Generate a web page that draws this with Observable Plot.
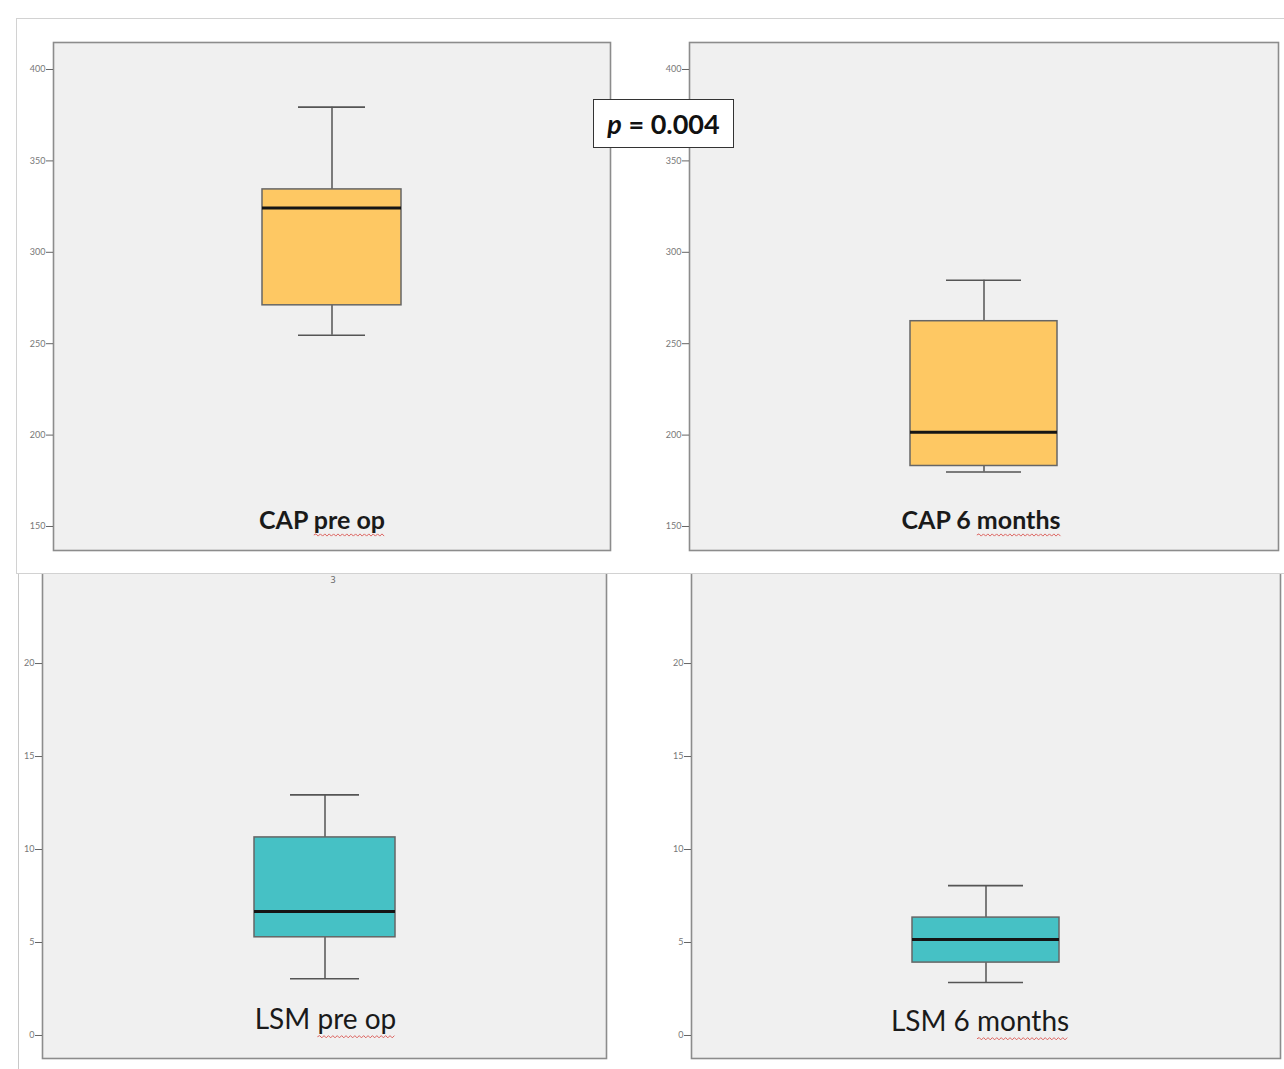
<!DOCTYPE html>
<html><head><meta charset="utf-8">
<script src="https://cdn.jsdelivr.net/npm/d3@7"></script>
<script src="https://cdn.jsdelivr.net/npm/@observablehq/plot@0.6"></script>
<style>
body{margin:0;background:#fff;font-family:Lato,"Open Sans",sans-serif;}
#root{position:relative;width:1284px;height:1069px;overflow:hidden;background:#fff;}
.svgwrap{position:absolute;}
.svgwrap svg{display:block;}
#topbg{position:absolute;left:16px;top:18px;width:1268px;height:556px;background:#fff;border:1px solid #d2d2d2;border-right:none;box-sizing:border-box;z-index:2;}
#botedge{position:absolute;left:18px;top:560px;width:1px;height:509px;background:#c8c8c8;}
#pbox{position:absolute;left:593px;top:99px;width:141px;height:49px;box-sizing:border-box;border:1.5px solid #333;background:#fff;z-index:4;
  font-family:Lato,"Open Sans",sans-serif;font-weight:bold;font-size:27px;color:#111;display:flex;align-items:center;justify-content:center;}
</style></head>
<body><div id="root"><div id="botedge"></div><div id="topbg"></div><div id="pbox"><span><i>p</i> = 0.004</span></div></div>
<script>
// ---- data ----
const panels = ["CAP pre op", "CAP 6 months", "LSM pre op", "LSM 6 months"];
const lowWhisker  = [254.6, 179.8, 3.05, 2.85];
const q1          = [271.0, 183.1, 5.28, 3.92];
const median      = [324.2, 201.6, 6.67, 5.16];
const q3          = [334.4, 262.3, 10.65, 6.34];
const highWhisker = [379.4, 284.7, 12.94, 8.06];
const capTicks = [150, 200, 250, 300, 350, 400];
const lsmTicks = [0, 5, 10, 15, 20, 25];
const lsmPreOutlier = [{value: 25.1, id: "3"}];

// ---- layout/style ----
const ORANGE = "#fec863", TEAL = "#46c1c5";
const layout = [
  {left: 16, top: 18, width: 604, height: 555, ml: 37, mr: 10, mt: 24, mb: 23, domain: [136.87, 414.77], ticks: capTicks, color: ORANGE, bold: true, fs: 25, dx: -10, dy: -30, z: 3, split: ["CAP", "pre op"]},
  {left: 640, top: 18, width: 644, height: 555, ml: 49, mr: 6, mt: 24, mb: 23, domain: [136.87, 414.77], ticks: capTicks, color: ORANGE, bold: true, fs: 25, dx: -3, dy: -30, z: 3, split: ["CAP 6", "months"]},
  {left: 19, top: 560, width: 600, height: 509, ml: 23, mr: 13, mt: 0, mb: 11, domain: [-1.237, 25.54], ticks: lsmTicks, color: TEAL, bold: false, fs: 28, dx: 1, dy: -38, z: 1, split: ["LSM", "pre op"]},
  {left: 640, top: 560, width: 644, height: 509, ml: 51, mr: 4, mt: 0, mb: 11, domain: [-1.237, 25.54], ticks: lsmTicks, color: TEAL, bold: false, fs: 28, dx: -6, dy: -36, z: 1, split: ["LSM 6", "months"]}
];

const root = document.getElementById("root");
const NS = "http://www.w3.org/2000/svg";

panels.forEach((name, i) => {
  const L = layout[i];
  const d = [{panel: name, low: lowWhisker[i], q1: q1[i], median: median[i], q3: q3[i], high: highWhisker[i]}];
  const marks = [
    Plot.frame({fill: "#f0f0f0", stroke: "#8c8c8c", strokeWidth: 1.6}),
    Plot.axisY(L.ticks, {tickSize: 7, tickPadding: 1, fontSize: 9, stroke: "#666", fill: "#777", fontFamily: "Lato, sans-serif"}),
    Plot.ruleX(d, {x: "panel", y1: "low", y2: "q1", stroke: "#555", strokeWidth: 1.5}),
    Plot.ruleX(d, {x: "panel", y1: "q3", y2: "high", stroke: "#555", strokeWidth: 1.5}),
    Plot.tickY(d, {x: "panel", y: "low", insetLeft: 36, insetRight: 36, stroke: "#555", strokeWidth: 1.6}),
    Plot.tickY(d, {x: "panel", y: "high", insetLeft: 36, insetRight: 36, stroke: "#555", strokeWidth: 1.6}),
    Plot.barY(d, {x: "panel", y1: "q1", y2: "q3", fill: L.color, stroke: "#666", strokeWidth: 1.5}),
    Plot.tickY(d, {x: "panel", y: "median", stroke: "#151515", strokeWidth: 3}),
    Plot.text(d, {frameAnchor: "bottom", lineAnchor: "middle", text: "panel", dx: L.dx, dy: L.dy,
      fontSize: L.fs, fontWeight: L.bold ? "bold" : "normal", fill: "#1a1a1a", fontFamily: "Lato, 'Open Sans', sans-serif"})
  ];
  if (i === 2) {
    marks.push(Plot.dot(lsmPreOutlier, {x: () => name, y: "value", r: 4, stroke: "#666", strokeWidth: 1}));
    marks.push(Plot.text(lsmPreOutlier, {x: () => name, y: "value", text: "id", dx: 8, dy: 11, fontSize: 9, fill: "#666"}));
  }
  const svg = Plot.plot({
    width: L.width, height: L.height,
    marginLeft: L.ml, marginRight: L.mr, marginTop: L.mt, marginBottom: L.mb,
    style: {background: "transparent", overflow: "visible"},
    x: {type: "band", domain: [name], padding: 0.6, axis: null},
    y: {domain: L.domain},
    marks
  });
  const wrap = document.createElement("div");
  wrap.className = "svgwrap";
  wrap.style.left = L.left + "px";
  wrap.style.top = L.top + "px";
  wrap.style.zIndex = L.z;
  wrap.appendChild(svg);
  root.appendChild(wrap);

  // spell-check style red wavy underline under the second word(s) of the label
  svg.querySelectorAll("text").forEach(t => {
    if (t.textContent !== name) return;
    const k0 = L.split[0].length + 1, k1 = name.length - 1;
    const a = t.getStartPositionOfChar(k0), b = t.getEndPositionOfChar(k1);
    const y0 = a.y + L.fs * 0.26, step = 2.2, amp = 1.1;
    let p = `M${a.x},${y0}`, up = true;
    for (let x = a.x + step; x <= b.x + 0.01; x += step, up = !up) p += `L${x},${y0 + (up ? -amp : amp)}`;
    const path = document.createElementNS(NS, "path");
    path.setAttribute("d", p);
    path.setAttribute("fill", "none");
    path.setAttribute("stroke", "#d9534f");
    path.setAttribute("stroke-width", "0.9");
    if (t.getAttribute("transform")) path.setAttribute("transform", t.getAttribute("transform"));
    t.parentNode.appendChild(path);
  });
});
</script>
</body></html>
